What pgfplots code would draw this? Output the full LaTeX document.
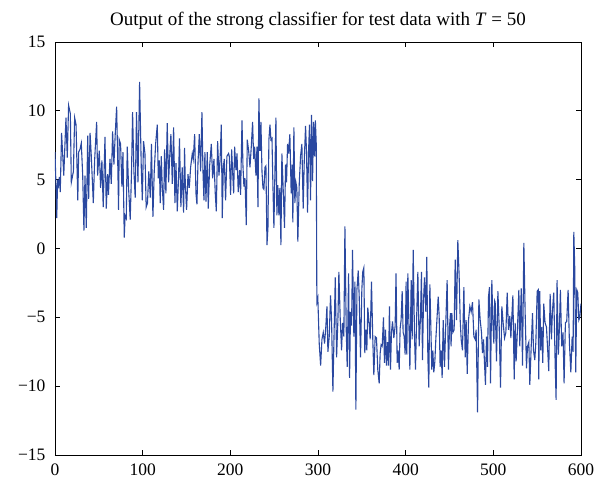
\documentclass[border=0pt]{standalone}
\usepackage{fontspec}
\setmainfont{Liberation Serif}
\usepackage{pgfplots}
\pgfplotsset{compat=1.18}
\definecolor{lineblue}{RGB}{42,72,160}
\begin{document}
\begin{tikzpicture}
\path (-55pt,-36pt) rectangle (544pt,455pt);
\begin{axis}[
  at={(0pt,0pt)}, anchor=south west,
  scale only axis, width=526pt, height=413pt,
  xmin=0, xmax=600, ymin=-15, ymax=15,
  xtick={0,100,200,300,400,500,600},
  ytick={-15,-10,-5,0,5,10,15},
  yticklabels={−15,−10,−5,0,5,10,15},
  xticklabels={0,100,200,300,400,500,600},
  tick align=inside, major tick length=5pt,
  tick style={black, line width=0.8pt},
  axis line style={line width=0.8pt},
  ticklabel style={font=\fontsize{17.5}{20}\selectfont},
  yticklabel style={xshift=-6pt},
  xticklabel style={yshift=-5pt},
  title={Output of the strong classifier for test data with \textit{T} = 50},
  title style={font=\fontsize{19}{22}\selectfont, at={(0.5,1)}, anchor=south, yshift=3pt},
]
\addplot[lineblue, line width=1.1pt] coordinates {
(0,7.0)(1,4.8)(2,2.2)(3,5.0)(4,4.6)(5,5.2)(6,4.1)(7.5,8.4)(10,5.3)(12.5,9.5)(14,6.6)(15.5,10.4)(17.5,9.8)(18.6,4.8)(21,5.6)(22.4,9.5)(24,9.0)(26,3.5)(27,7.0)(28.5,7.2)(30,7.65)(31.6,5.3)(33,1.3)(34.2,5.3)(35.7,1.5)(37.3,8.2)(38.4,3.6)(40,8.4)(41.4,6.7)(43.7,3.3)(45.2,6.4)(47.5,9.2)
(48.6,5.3)(50.5,7.1)(52,4.4)(53.5,6.4)(55,3.0)(57,8.1)(58.5,2.9)(60,5.4)(61,3.9)(62.7,6.5)(64.2,4.7)(65.7,8.5)(67.2,6.1)(68.7,8.3)(70.3,10.3)(71.5,6.5)(72.5,2.8)(73.3,7.9)(74.8,7.6)(76.3,4.5)(77.5,7.0)(79,0.8)(80,2.4)(81.3,2.2)(82.4,7.4)(84,4.3)(85.8,2.1)(87.3,5.6)(88.5,9.9)(90,5.6)(91.5,3.7)(93,9.9)(94.6,4.8)(96.5,12.1)
(98.4,5.9)(99.6,3.5)(101,7.8)(102.6,6.9)(104,3.0)(105.5,3.3)(107,5.6)(108.7,3.7)(110,7.6)(111.7,2.3)(113.2,5.6)(114.8,7.6)(116.7,9.0)(117.8,5.1)(119,6.4)(120,3.3)(121.2,6.7)(122.4,4.4)(123.9,2.8)(125,7.2)(126.5,4.0)(128,9.1)(129.6,4.8)(130.7,6.5)(132.2,8.3)(133.8,4.7)(135.3,8.8)(136.8,3.3)(138,6.2)(139.5,2.7)(141,5.3)(142,8.0)(143.6,3.0)(145.1,5.9)(146.7,2.6)(147.8,7.3)
(148.6,4.8)(150.1,2.8)(151.7,5.4)(153.2,4.4)(154.7,5.9)(156.6,6.9)(157.7,6.5)(159.3,8.3)(160.8,4.0)(161.9,3.2)(163.1,6.2)(164.6,8.3)(166.1,5.6)(167.6,9.9)(168.8,5.6)(169.9,3.5)(171,7.0)(172.2,3.4)(173.7,7.0)(174.8,2.9)(176.4,6.0)(178.3,7.6)(179.8,5.1)(181.3,6.5)(182.8,4.0)(184,2.7)(185.5,7.8)(187,5.3)(188.2,6.3)(189.7,9.0)(190.8,2.2)(192,5.9)(193.1,6.5)(194.6,3.5)(196.1,6.7)(198,6.9)
(198.8,6.7)(200.3,3.9)(201.5,7.2)(202.6,5.6)(203.8,4.0)(204.9,7.4)(206.4,5.7)(207.6,6.9)(209,4.1)(210.6,5.7)(211.7,3.9)(213.3,9.3)(214.4,6.0)(215.5,4.5)(216.7,5.1)(218.2,1.7)(219.3,7.9)(220.9,7.1)(222.4,5.9)(223.9,7.4)(225.4,9.2)(226.6,6.5)(227.7,7.4)(229.2,5.3)(230.4,7.4)(231.5,3.0)(232.6,10.9)(233.8,7.1)(234.9,9.2)(236.1,5.6)(237.2,4.4)(238.3,4.3)(239.5,5.9)(240.6,6.0)(241.8,0.25)(242.9,1.5)(244,7.9)(245.2,9.0)(246.3,7.9)(247.5,8.0)
(248.5,4.8)(249.7,1.5)(250.8,5.3)(252,9.5)(253.1,2.4)(254.2,4.6)(255.4,2.4)(256.5,4.4)(257.7,0.25)(258.8,6.9)(260.3,4.3)(261.8,1.5)(263,6.1)(264.1,4.8)(265.3,7.6)(266.4,6.9)(267.9,8.3)(269.4,4.0)(270.6,6.1)(271.3,1.9)(272.5,8.8)(273.6,3.3)(274.8,4.8)(275.9,4.4)(277,0.5)(278.6,4.7)(280.1,6.7)(281.6,7.6)(283.1,2.9)(284.3,6.3)(285.8,8.9)(286.9,7.0)(288.1,2.6)(289.2,7.0)(290.3,9.0)(291.5,3.5)(292.6,9.7)(293.8,4.9)(294.9,9.2)(296.1,6.7)(297,9.3)(298,7.6)(298.7,-3.9)(299.8,-3.6)
(301.4,-6.9)(303,-8.5)(304.5,-6.6)(306,-6.1)(307.5,-6.9)(309,-5.6)(310.2,-4.2)(311.3,-7.5)(312.8,-6.4)(314.3,-3.4)(315.5,-5.3)(317,-10.4)(318.1,-6.9)(319.7,-2.1)(321.2,-7.9)(322.7,-5.2)(323.8,-1.7)(325.4,-5.2)(326.9,-7.4)(328,-5.4)(329.5,-6.4)(330.7,1.6)(332.2,-5.9)(333.3,-8.6)(334.9,-1.8)(336,-9.4)(337.1,-4.6)(338.3,-5.6)(339.4,-0.1)(340.9,-6.4)(342.1,-2.4)(343.2,-11.7)(344.4,-3.0)(345.9,-1.6)(347,-3.5)(348.5,-7.9)(350,-3.0)
(351,-1.7)(352.3,-1.4)(353.4,-7.6)(354.6,-5.9)(355.7,-7.4)(356.8,-4.3)(358,-5.2)(359.5,-6.6)(361,-2.4)(362.5,-6.6)(363.7,-9.2)(365.2,-6.4)(366.7,-6.5)(368.2,-8.8)(369.8,-9.8)(370.9,-7.6)(372,-7.0)(373.2,-7.1)(374.7,-5.0)(375.8,-8.3)(377,-5.9)(378.1,-8.5)(379.3,-6.8)(380.4,-8.5)(381.5,-4.2)(382.7,-8.8)(383.8,-6.1)(385,-5.3)(386.5,-6.5)(388,-5.6)(389,-1.8)(390.3,-8.3)(391.4,-7.4)(392.6,-8.8)(393.7,-5.8)(394.8,-5.2)(396,-3.1)(397.1,-6.1)(398.3,-6.4)(399.4,-7.7)(400.5,-2.4)
(401.3,-7.7)(402.5,-1.8)(403.6,-5.2)(404.8,-8.8)(406.3,-2.3)(407.4,-6.6)(408.6,-0.1)(410.1,-6.4)(411.2,-8.8)(412.7,-4.6)(413.9,-1.7)(415.4,-7.1)(416.9,-5.0)(418,-1.7)(419.2,-8.1)(420.3,-3.9)(421.5,-2.1)(423,-4.6)(424.1,-0.6)(425.3,-7.9)(426.4,-10.1)(427.6,-2.6)(428.7,-5.6)(429.8,-8.8)(431,-7.4)(432.1,-9.0)(433.3,-8.2)(434.4,-6.6)(435.9,-4.9)(437.1,-3.5)(438.2,-4.9)(439.3,-8.6)(440.5,-7.4)(441.6,-9.4)(442.8,-5.2)(444.3,-8.6)(445.8,-5.4)(447.3,-2.3)(448.8,-8.8)(450,-5.7)(451.1,-4.7)
(451.8,-7.1)(452.7,-4.7)(453.8,-6.1)(455.3,-5.9)(456.5,-0.8)(458,-5.2)(459.5,0.6)(461,-2.0)(462.2,-5.2)(463.3,-6.6)(464.8,-7.4)(466.4,-2.8)(467.9,-7.9)(469,-5.2)(470.2,-9.1)(471.7,-5.2)(473.2,-4.2)(474.7,-4.6)(476.2,-3.9)(477.8,-6.4)(479.3,-6.6)(480.4,-5.9)(482,-11.9)(483.5,-3.7)(485,-5.2)(486.5,-6.1)(487.6,-7.6)(488.8,-6.6)(489.9,-8.3)(491,-9.9)(492.2,-6.4)(493.3,-8.6)(494.5,-3.5)(495.6,-2.8)(496.8,-9.8)(498.3,-2.3)(499.4,-5.2)(500.6,-6.9)
(501.5,-3.8)(502.1,-3.9)(503.6,-8.2)(505.2,-3.1)(506.7,-5.7)(508.2,-10.1)(509.7,-4.2)(511.2,-5.4)(512.8,-6.5)(514.3,-6.1)(515.8,-3.2)(517.3,-5.9)(518.8,-4.9)(520,-6.5)(521.1,-4.9)(522.3,-3.4)(523.8,-9.5)(524.9,-5.4)(526,-8.2)(527.6,-5.7)(529.1,-3.0)(530.2,-7.1)(531.8,-2.9)(533.3,-8.5)(534.8,0.4)(536.3,-4.7)(537.8,-8.7)(539,-7.1)(540.5,-6.8)(541.6,-9.9)(543.2,-7.1)(544.7,-4.7)(545.8,-7.4)(547.3,-8.1)(548.5,-6.8)(550,-3.1)(551.2,-3.0)
(551.8,-9.5)(552.9,-3.1)(554.1,-7.4)(555.3,-5.7)(556.4,-8.3)(557.5,-4.0)(559,-5.4)(560.6,-5.7)(562.1,-7.5)(563.2,-8.9)(564.8,-3.3)(566.3,-6.6)(567.4,-4.6)(568.9,-3.2)(570.5,-8.3)(571.6,-11.0)(572.7,-2.3)(574.2,-7.7)(575.4,-5.7)(576.5,-3.0)(578,-7.1)(579.5,-6.1)(580.7,-9.8)(582.2,-5.4)(583.7,-5.3)(585.3,-3.0)(586.8,-6.9)(588.4,-9.0)(589.9,-6.4)(591,-7.5)(591.8,1.2)(592.9,-1.5)(594,-9.0)(595.2,-3.0)(596.3,-3.2)(597.5,-5.2)(598.6,-5.0)(600,-4.0)
};
\end{axis}
\end{tikzpicture}
\end{document}
